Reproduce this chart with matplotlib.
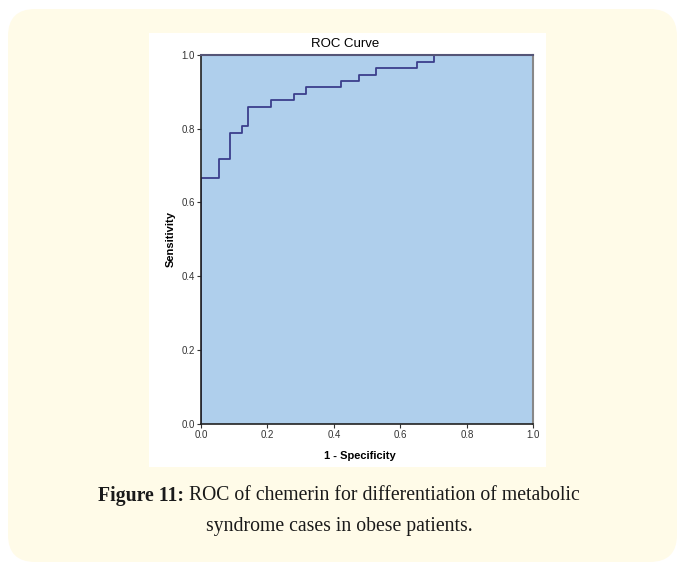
import matplotlib.pyplot as plt
from matplotlib.patches import FancyBboxPatch, Rectangle

# ROC curve steps (1 - specificity, sensitivity)
fpr = [0.0, 0.0, 0.053, 0.053, 0.088, 0.088, 0.123, 0.123, 0.140, 0.140,
       0.211, 0.211, 0.281, 0.281, 0.316, 0.316, 0.421, 0.421, 0.474, 0.474,
       0.526, 0.526, 0.649, 0.649, 0.702, 0.702, 1.0]
tpr = [0.0, 0.667, 0.667, 0.719, 0.719, 0.789, 0.789, 0.807, 0.807, 0.860,
       0.860, 0.877, 0.877, 0.895, 0.895, 0.912, 0.912, 0.930, 0.930, 0.947,
       0.947, 0.965, 0.965, 0.982, 0.982, 1.0, 1.0]
ticks = [0.0, 0.2, 0.4, 0.6, 0.8, 1.0]
tick_labels = ['0.0', '0.2', '0.4', '0.6', '0.8', '1.0']

W, H = 678, 567
fig = plt.figure(figsize=(W / 100, H / 100), dpi=100)
fig.patch.set_facecolor('white')

# cream rounded background
bg = FancyBboxPatch((8 / W, 5 / H), 669 / W, 553 / H,
                    boxstyle='round,pad=0,rounding_size=0.04',
                    transform=fig.transFigure, facecolor='#fffbe8',
                    edgecolor='none', mutation_aspect=W / H, zorder=-3)
fig.patches.append(bg)
# white chart panel
panel = Rectangle((149 / W, (H - 467) / H), 397 / W, 434 / H,
                  transform=fig.transFigure, facecolor='white',
                  edgecolor='none', zorder=-2)
fig.patches.append(panel)

ax = fig.add_axes([201 / W, (H - 423.5) / H, 332.3 / W, 368.5 / H])
ax.set_facecolor('#afcfec')
ax.plot(fpr, tpr, color='#3b3e8c', lw=1.3)
ax.set_xlim(0, 1)
ax.set_ylim(0, 1)
ax.set_xticks(ticks)
ax.set_xticklabels(tick_labels)
ax.set_yticks(ticks)
ax.set_yticklabels(tick_labels)
ax.tick_params(labelsize=7, length=3, width=0.8, color='#333333',
               labelcolor='#333333', pad=1.5, direction='out')
for side in ['left', 'bottom']:
    ax.spines[side].set_color('#222222')
    ax.spines[side].set_linewidth(1.2)
for side in ['top', 'right']:
    ax.spines[side].set_color('#888888')
    ax.spines[side].set_linewidth(1.5)
ax.spines['top'].set_color('#555577')

ax.set_title('ROC Curve', fontsize=9.5, family='Liberation Sans',
             x=0.435, y=1.03, va='center', pad=0)
ax.set_xlabel('1 - Specificity', fontsize=8, fontweight='bold',
              family='Liberation Sans')
ax.xaxis.set_label_coords(0.477, -0.075)
ax.set_ylabel('Sensitivity', fontsize=8, fontweight='bold',
              family='Liberation Sans', labelpad=4)
for lab in ax.get_xticklabels() + ax.get_yticklabels():
    lab.set_family('Liberation Sans')

# caption: bold label followed by regular text, centred as one line
cap_kw = dict(va='center', fontsize=14.2, family='Liberation Serif', color='#1a1a1a')
bold = fig.text(0, 1 - 496 / H, 'Figure 11:', ha='left', fontweight='bold', **cap_kw)
rest = fig.text(0, 1 - 496 / H, ' ROC of chemerin for differentiation of metabolic',
                ha='left', **cap_kw)
fig.text(0.5, 1 - 526 / H, 'syndrome cases in obese patients.', ha='center', **cap_kw)

fig.canvas.draw()
r = fig.canvas.get_renderer()
wb = bold.get_window_extent(r).width
wr = rest.get_window_extent(r).width
x0 = (W - wb - wr) / 2
bold.set_x(x0 / W)
rest.set_x((x0 + wb) / W)

plt.savefig('out.png', dpi=100)
